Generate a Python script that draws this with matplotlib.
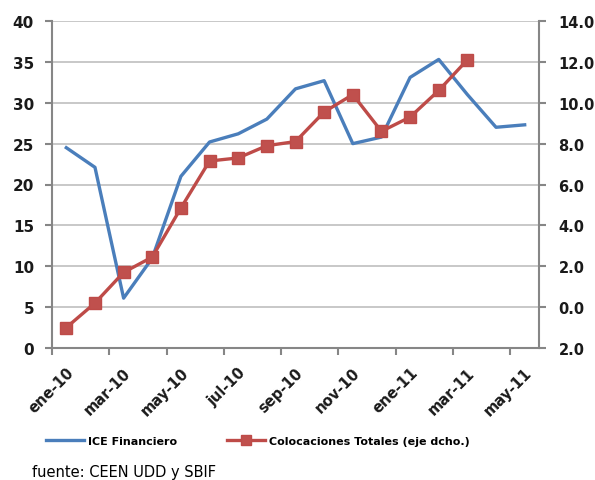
import numpy as np
import matplotlib.pyplot as plt
from matplotlib.lines import Line2D
from matplotlib.transforms import offset_copy

# months from ene-10 to may-11
month_labels = ["ene-10", "mar-10", "may-10", "jul-10", "sep-10",
                "nov-10", "ene-11", "mar-11", "may-11"]

ice_financiero = [24.5, 22.1, 6.1, 11.0, 21.0, 25.2, 26.2, 28.0, 31.7,
                  32.7, 25.0, 25.8, 33.1, 35.3, 31.0, 27.0, 27.3]

colocaciones = [-1.0, 0.2, 1.7, 2.45, 4.85, 7.15, 7.3, 7.9, 8.1,
                9.55, 10.4, 8.6, 9.3, 10.6, 12.1]

left_ticks = [0, 5, 10, 15, 20, 25, 30, 35, 40]
right_ticks = [-2, 0, 2, 4, 6, 8, 10, 12, 14]
right_ticklabels = ["2.0", "0.0", "2.0", "4.0", "6.0", "8.0", "10.0", "12.0", "14.0"]

BLUE = "#4A7EBB"
RED = "#BE4B48"
AXIS = "#868686"
GRID = "#BFBFBF"

plt.rcParams['font.family'] = ['DejaVu Sans']

fig = plt.figure(figsize=(5.95, 4.81), dpi=100)
ax = fig.add_axes([52 / 595, 1 - 349 / 481, (539 - 52) / 595, (349 - 22) / 481])
ax2 = ax.twinx()

x_ice = np.arange(len(ice_financiero)) + 0.5
x_col = np.arange(len(colocaciones)) + 0.5

ax.plot(x_ice, ice_financiero, color=BLUE, lw=2.4, solid_joinstyle='round', zorder=3)
ax2.plot(x_col, colocaciones, color=RED, lw=2.4, marker='s', markersize=8.5,
         markerfacecolor="#C0504D", markeredgecolor=RED, zorder=3)

ax.set_xlim(0, 17)
ax.set_ylim(0, 40)
ax2.set_ylim(-2, 14)

ax.set_yticks(left_ticks)
ax.set_yticklabels([str(t) for t in left_ticks])
ax2.set_yticks(right_ticks)
ax2.set_yticklabels(right_ticklabels)

ax.set_xticks(np.arange(0, 17, 2))
ax.set_xticklabels(month_labels, rotation=45, ha='right', rotation_mode='anchor')

ax.grid(axis='y', color=GRID, lw=1.2)
ax.set_axisbelow(True)

for a in (ax, ax2):
    for s in a.spines.values():
        s.set_visible(False)
ax.spines['left'].set_visible(True)
ax.spines['bottom'].set_visible(True)
ax2.spines['right'].set_visible(True)
for s in (ax.spines['left'], ax.spines['bottom'], ax2.spines['right']):
    s.set_color(AXIS)
    s.set_linewidth(1.5)

ax.tick_params(axis='y', direction='out', length=5, width=1.5, color=AXIS,
               labelsize=11, pad=8)
ax.tick_params(axis='x', direction='out', length=5, width=1.5, color=AXIS,
               labelsize=10.5, pad=4)
ax2.tick_params(axis='y', direction='out', length=5, width=1.5, color=AXIS,
                labelsize=10.5, pad=9)
for lbl in ax.get_yticklabels() + ax.get_xticklabels() + ax2.get_yticklabels():
    lbl.set_fontweight('bold')
    lbl.set_color('#1a1a1a')
# Excel places the rotated date labels slightly right of the tick
for lbl in ax.get_xticklabels():
    lbl.set_transform(offset_copy(lbl.get_transform(), fig=fig, x=14, y=-4, units='dots'))

handles = [Line2D([], [], color=BLUE, lw=2.4),
           Line2D([], [], color=RED, lw=2.4, marker='s', markersize=7,
                  markerfacecolor="#C0504D", markeredgecolor=RED)]
fig.legend(handles, ["ICE Financiero", "Colocaciones Totales (eje dcho.)"],
           loc='center', bbox_to_anchor=(258 / 595, 1 - 442 / 481), ncol=2,
           frameon=False, handlelength=3.4, handletextpad=0.4, columnspacing=4.5,
           prop={'size': 8, 'weight': 'bold'})

fig.text(32 / 595, 1 - 473 / 481, "fuente: CEEN UDD y SBIF", fontsize=10.5,
         va='center', ha='left', color='black')

fig.savefig("out.png", dpi=100)
